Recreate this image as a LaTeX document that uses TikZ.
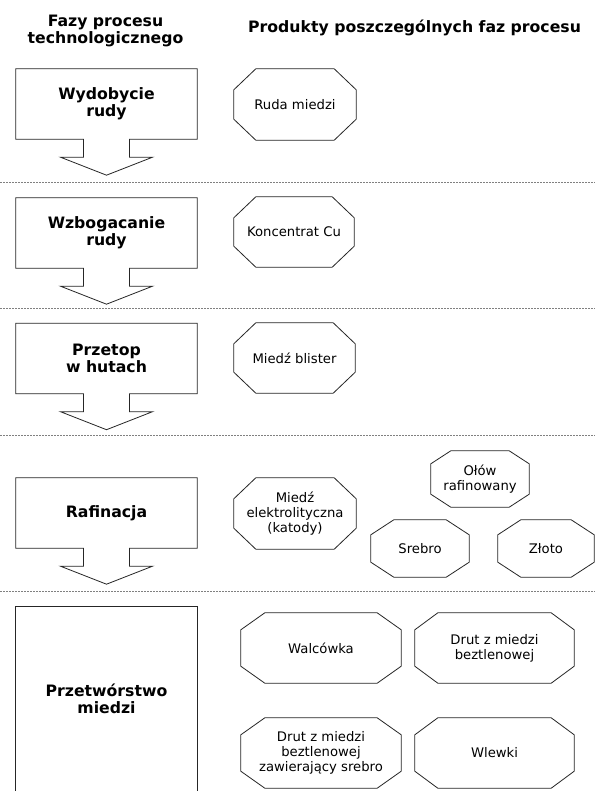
\documentclass[tikz,border=0pt]{standalone}
\usepackage{fontspec}
\setmainfont{DejaVu Sans}
\usetikzlibrary{calc}

% outline of a phase box with a downward block arrow below it
\newcommand\calloutline[1]{%
  \draw[shapeline] (#1.north west) -- (#1.north east) -- (#1.south east)
    -- ($(#1.south)+(23pt,0pt)$) -- ++(0pt,-18pt) -- ++(23pt,0pt)
    -- ($(#1.south)+(0pt,-36pt)$) -- ($(#1.south)+(-46pt,-18pt)$) -- ++(23pt,0pt)
    -- ($(#1.south)+(-23pt,0pt)$) -- (#1.south west) -- cycle;}
% octagon outline around a product node: node, x cut, y cut
\newcommand\octoline[3]{%
  \draw[shapeline] ($(#1.north west)+(#2,0pt)$) -- ($(#1.north east)+(-#2,0pt)$)
    -- ($(#1.north east)+(0pt,-#3)$) -- ($(#1.south east)+(0pt,#3)$)
    -- ($(#1.south east)+(-#2,0pt)$) -- ($(#1.south west)+(#2,0pt)$)
    -- ($(#1.south west)+(0pt,#3)$) -- ($(#1.north west)+(0pt,-#3)$) -- cycle;}

\begin{document}
\begin{tikzpicture}[x=1pt,y=-1pt,
  hdr/.style={font=\fontsize{15.7}{17}\selectfont\bfseries, align=center, inner sep=0pt},
  phase/.style={font=\fontsize{15.7}{17}\selectfont\bfseries, align=center, inner sep=0pt,
                minimum width=181pt, minimum height=70pt},
  prod/.style={font=\fontsize{13.2}{15}\selectfont, align=center, inner sep=0pt},
  bigoct/.style={prod, minimum width=122pt, minimum height=71pt},
  smalloct/.style={prod, minimum width=97pt, minimum height=57pt},
  wideoct/.style={prod, minimum width=160pt, minimum height=70pt},
  shapeline/.style={draw=black!85, line width=0.8pt, line join=miter},
  sepline/.style={draw=gray, line width=0.7pt, dash pattern=on 2pt off 1pt},
]
\useasboundingbox (0,0) rectangle (595,791);
\fill[white] (0,0) rectangle (595,791);

% headers
\node[hdr] (h1) at (105.5,30.6) {Fazy procesu\\technologicznego};
\node[hdr, anchor=base west] (h2) at (248,33) {Produkty poszczególnych faz procesu};

% separators
\draw[sepline] (0,182) -- (595,182);
\draw[sepline] (0,308) -- (595,308);
\draw[sepline] (0,435) -- (595,435);
\draw[sepline] (0,591) -- (595,591);

% phase 1
\node[phase] (ph1) at (106.5,104) {Wydobycie\\rudy};
\calloutline{ph1}
\node[bigoct] (p1) at (295,104.5) {Ruda miedzi};
\octoline{p1}{22pt}{21pt}

% phase 2
\node[phase] (ph2) at (106.5,233) {Wzbogacanie\\rudy};
\calloutline{ph2}
\node[bigoct, minimum width=120pt, minimum height=70pt] (p2) at (294,232) {Koncentrat Cu};
\octoline{p2}{22pt}{21pt}

% phase 3
\node[phase] (ph3) at (106.5,358.5) {Przetop\\w hutach};
\calloutline{ph3}
\node[bigoct, minimum width=121pt, minimum height=70pt] (p3) at (294.5,358) {Miedź blister};
\octoline{p3}{22pt}{21pt}

% phase 4
\node[phase] (ph4) at (106.5,513) {Rafinacja};
\calloutline{ph4}
\node[bigoct] (p4) at (295,513.5) {Miedź\\elektrolityczna\\(katody)};
\octoline{p4}{22pt}{21pt}
\node[smalloct, minimum width=98pt, minimum height=56pt] (p5) at (480,479) {Ołów\\rafinowany};
\octoline{p5}{20pt}{13pt}
\node[smalloct, minimum width=98pt] (p6) at (420,548.5) {Srebro};
\octoline{p6}{23pt}{15pt}
\node[smalloct, minimum width=96pt] (p7) at (546,548.5) {Złoto};
\octoline{p7}{23pt}{15pt}

% phase 5
\node[phase, minimum height=185pt, anchor=north] (ph5) at (106.5,606) {Przetwórstwo\\miedzi};
\draw[shapeline] (ph5.south west) -- (ph5.north west) -- (ph5.north east) -- (ph5.south east);
\node[wideoct] (p8) at (321,648) {Walcówka};
\octoline{p8}{24pt}{17pt}
\node[wideoct, minimum width=159pt] (p9) at (494.5,648) {Drut z miedzi\\beztlenowej};
\octoline{p9}{23pt}{17pt}
\node[wideoct] (p10) at (321,753) {Drut z miedzi\\beztlenowej\\zawierający srebro};
\octoline{p10}{24pt}{17pt}
\node[wideoct, minimum width=159pt] (p11) at (494.5,753) {Wlewki};
\octoline{p11}{23pt}{17pt}
\end{tikzpicture}
\end{document}
